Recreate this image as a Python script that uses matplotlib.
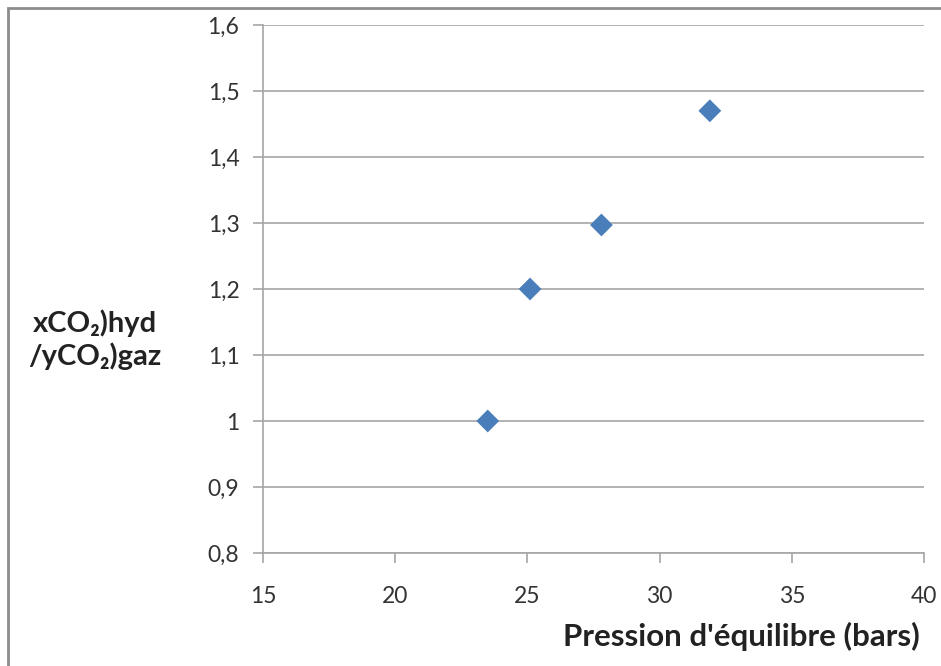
import matplotlib
matplotlib.use("Agg")
import matplotlib.pyplot as plt
from matplotlib.patches import Rectangle

plt.rcParams.update({
    "font.family": ["Lato", "DejaVu Sans"],
})

# data
pression = [23.5, 25.1, 27.8, 31.9]
ratio = [1.0, 1.2, 1.297, 1.47]

x_ticks = [15, 20, 25, 30, 35, 40]
y_ticks = [0.8, 0.9, 1.0, 1.1, 1.2, 1.3, 1.4, 1.5, 1.6]
y_labels = ["0,8", "0,9", "1", "1,1", "1,2", "1,3", "1,4", "1,5", "1,6"]

fig = plt.figure(figsize=(9.41, 6.66), dpi=100)

# grey outer frame (Excel chart area), only left/top edges visible
fig.patches.append(Rectangle((8 / 941, -0.05), 1.1, 1.05 - 8 / 666,
                             transform=fig.transFigure, fill=False,
                             edgecolor="#8c8c8c", linewidth=2.0))

ax = fig.add_axes([263 / 941, 113 / 666, 661 / 941, 528 / 666])

ax.scatter(pression, ratio, marker="D", s=135, color="#4a7ebb",
           edgecolors="none", zorder=3)

ax.set_xlim(15, 40)
ax.set_ylim(0.8, 1.6)
ax.set_xticks(x_ticks)
ax.set_xticklabels([str(t) for t in x_ticks])
ax.set_yticks(y_ticks)
ax.set_yticklabels(y_labels)

ax.grid(axis="y", color="#a6a6a6", linewidth=1.2)
ax.set_axisbelow(True)
for side in ("top", "right"):
    ax.spines[side].set_visible(False)
for side in ("left", "bottom"):
    ax.spines[side].set_color("#a6a6a6")
    ax.spines[side].set_linewidth(1.2)

ax.tick_params(axis="x", direction="out", length=7, width=1.2,
               color="#a6a6a6", labelsize=16.5, labelcolor="#333333", pad=17)
ax.tick_params(axis="y", direction="out", length=7, width=1.2,
               color="#a6a6a6", labelsize=16.5, labelcolor="#333333", pad=10)

fig.text(920 / 941, 1 - 636 / 666, "Pression d'équilibre (bars)",
         ha="right", va="center", fontsize=22.5, fontweight="bold",
         color="#222222")

fig.text(95 / 941, 1 - 340 / 666, "xCO₂)hyd\n/yCO₂)gaz",
         ha="center", va="center", fontsize=21, fontweight="bold",
         color="#222222", linespacing=1.25)

fig.savefig("out.png", dpi=100)
